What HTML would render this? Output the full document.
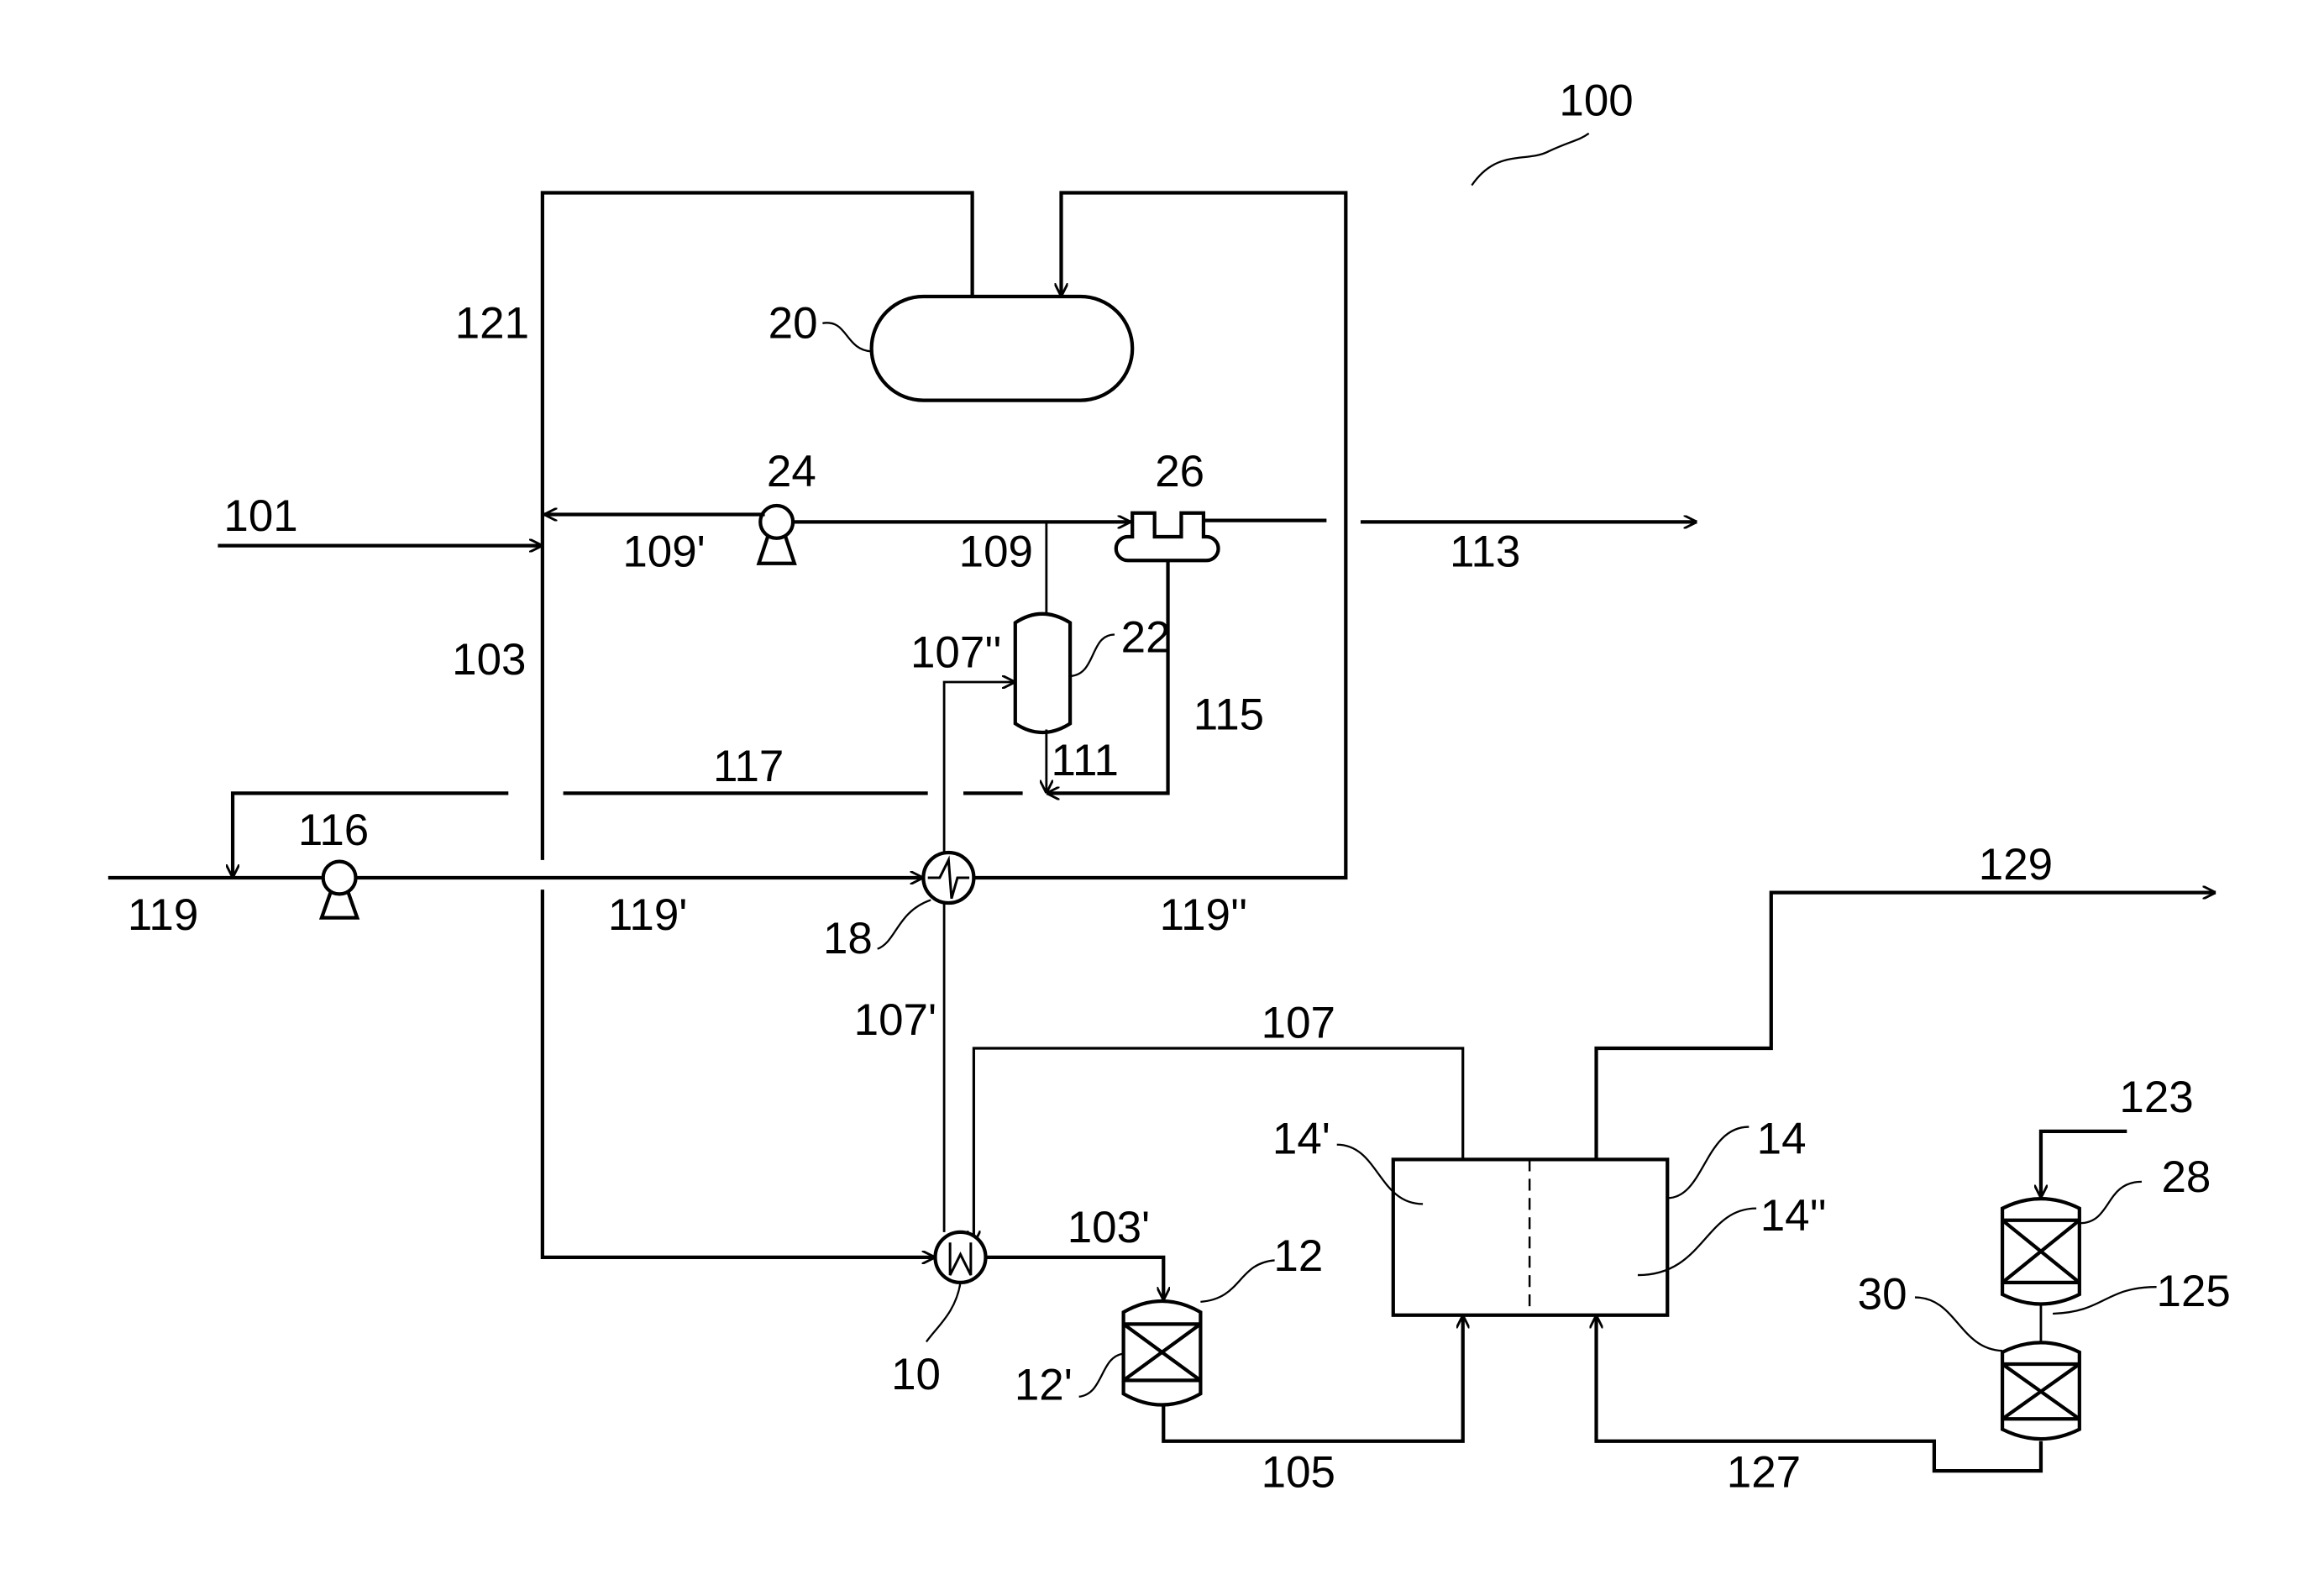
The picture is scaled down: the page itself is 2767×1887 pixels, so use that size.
<!DOCTYPE html>
<html><head><meta charset="utf-8"><style>html,body{margin:0;padding:0;background:#fff}svg{display:block}</style></head>
<body>
<svg xmlns="http://www.w3.org/2000/svg" width="2767" height="1887" viewBox="0 0 1568 1069" preserveAspectRatio="none">
<defs>
<marker id="a" viewBox="0 0 10 10" refX="10" refY="5" markerWidth="9" markerHeight="9" markerUnits="userSpaceOnUse" orient="auto"><path d="M0,0 L10,5 L0,10" fill="none" stroke="#000" stroke-width="1.8"/></marker>
</defs>
<g fill="none" stroke="#000" stroke-width="2.4">
<path d="M366,580 V130 H656 V200"/>
<path d="M640,592 H908 V130 H716 V200" marker-end="url(#a)"/>
<rect x="588" y="200" width="176" height="70" rx="35"/>
<path d="M516,347 H367" marker-end="url(#a)"/>
<path d="M147,368 H366" marker-end="url(#a)"/>
<circle cx="524" cy="352" r="11"/>
<path d="M518,362 L512,380 H536 L530,362"/>
<path d="M535,352 H763" marker-end="url(#a)"/>
<path d="M706,352 V415" stroke-width="1.6"/>
<path d="M764,362 V346 H779 V362 H797 V346 H812 V362 H814 A8,8 0 0 1 814,378 H761 A8,8 0 0 1 761,362 Z"/>
<path d="M812,351 H895"/>
<path d="M918,352 H1145" marker-end="url(#a)"/>
<path d="M788,378 V535 H706" marker-end="url(#a)"/>
<path d="M685,420 Q703,408 722,420 V488 Q703,500 685,488 Z"/>
<path d="M706,492 V535" stroke-width="1.6" marker-end="url(#a)"/>
<path d="M637,575 V460 H685" stroke-width="1.6" marker-end="url(#a)"/>
<path d="M690,535 H650"/>
<path d="M626,535 H380"/>
<path d="M343,535 H157 V592" marker-end="url(#a)"/>
<path d="M73,592 H623" marker-end="url(#a)"/>
<circle cx="229" cy="592" r="11" fill="#fff"/>
<path d="M223,602 L217,619 H241 L235,602"/>
<path d="M366,600 V848 H631" marker-end="url(#a)"/>
<circle cx="640" cy="592" r="17" fill="#fff"/>
<path d="M626,592 H634 L640,580 L642,606 L646,592 H654" stroke-width="1.7"/>
<path d="M637,609 V831" stroke-width="1.6"/>
<path d="M987,782 V707 H657 V839" stroke-width="1.8" marker-end="url(#a)"/>
<circle cx="648" cy="848" r="17" fill="#fff"/>
<path d="M641,838 V860 L648,846 L655,860 V838" stroke-width="1.7"/>
<path d="M665,848 H785 V877" marker-end="url(#a)"/>
<path d="M758,885 Q784,870 810,885 V940 Q784,955 758,940 Z"/>
<path d="M758,893 H810 M758,931 H810 M758,893 L810,931 M810,893 L758,931"/>
<path d="M785,948 V972 H987 V887" marker-end="url(#a)"/>
<rect x="940" y="782" width="185" height="105"/>
<path d="M1032,782 V887" stroke-width="1.4" stroke-dasharray="8,5"/>
<path d="M1077,782 V707 H1195 V602 H1495" marker-end="url(#a)"/>
<path d="M1377,972 V992 H1305 V972 H1077 V887" marker-end="url(#a)"/>
<path d="M1435,763 H1377 V808" marker-end="url(#a)"/>
<path d="M1351,815 Q1377,802 1403,815 V873 Q1377,886 1351,873 Z"/>
<path d="M1351,823 H1403 M1351,865 H1403 M1351,823 L1403,865 M1403,823 L1351,865"/>
<path d="M1377,880 V905" stroke-width="1.6"/>
<path d="M1351,912 Q1377,899 1403,912 V964 Q1377,977 1351,964 Z"/>
<path d="M1351,920 H1403 M1351,957 H1403 M1351,920 L1403,957 M1403,920 L1351,957"/>
</g>
<g fill="none" stroke="#000" stroke-width="1.3">
<path d="M993,125 C1010,100 1030,110 1045,102 C1060,95 1065,95 1072,90"/>
<path d="M555,218 C572,215 570,236 588,237"/>
<path d="M752,428 C735,428 740,455 722,456"/>
<path d="M592,640 C605,635 605,615 628,607"/>
<path d="M625,905 C632,895 645,885 648,865"/>
<path d="M860,850 C835,852 838,876 810,878"/>
<path d="M728,942 C745,940 742,915 758,913"/>
<path d="M902,772 C930,772 930,812 960,812"/>
<path d="M1180,760 C1150,760 1150,808 1125,808"/>
<path d="M1185,815 C1150,815 1150,860 1105,860"/>
<path d="M1445,797 C1420,797 1425,825 1403,825"/>
<path d="M1455,868 C1420,868 1420,885 1385,886"/>
<path d="M1292,875 C1320,875 1322,910 1351,911"/>
</g>
<g font-family="Liberation Sans, sans-serif" font-size="30" text-anchor="middle" fill="#000">
<text x="1077" y="78">100</text>
<text x="332" y="228">121</text>
<text x="535" y="228">20</text>
<text x="534" y="328">24</text>
<text x="796" y="328">26</text>
<text x="176" y="358">101</text>
<text x="448" y="382">109'</text>
<text x="672" y="382">109</text>
<text x="1002" y="382">113</text>
<text x="330" y="455">103</text>
<text x="645" y="450">107''</text>
<text x="773" y="440">22</text>
<text x="829" y="492">115</text>
<text x="505" y="527">117</text>
<text x="732" y="523">111</text>
<text x="225" y="570">116</text>
<text x="110" y="627">119</text>
<text x="437" y="627">119'</text>
<text x="812" y="627">119''</text>
<text x="572" y="643">18</text>
<text x="1360" y="593">129</text>
<text x="604" y="698">107'</text>
<text x="876" y="700">107</text>
<text x="1455" y="750">123</text>
<text x="878" y="778">14'</text>
<text x="1202" y="778">14</text>
<text x="1475" y="804">28</text>
<text x="1210" y="830">14''</text>
<text x="748" y="838">103'</text>
<text x="876" y="857">12</text>
<text x="1270" y="883">30</text>
<text x="1480" y="881">125</text>
<text x="618" y="937">10</text>
<text x="704" y="944">12'</text>
<text x="876" y="1003">105</text>
<text x="1190" y="1003">127</text>
</g>
</svg>
</body></html>
